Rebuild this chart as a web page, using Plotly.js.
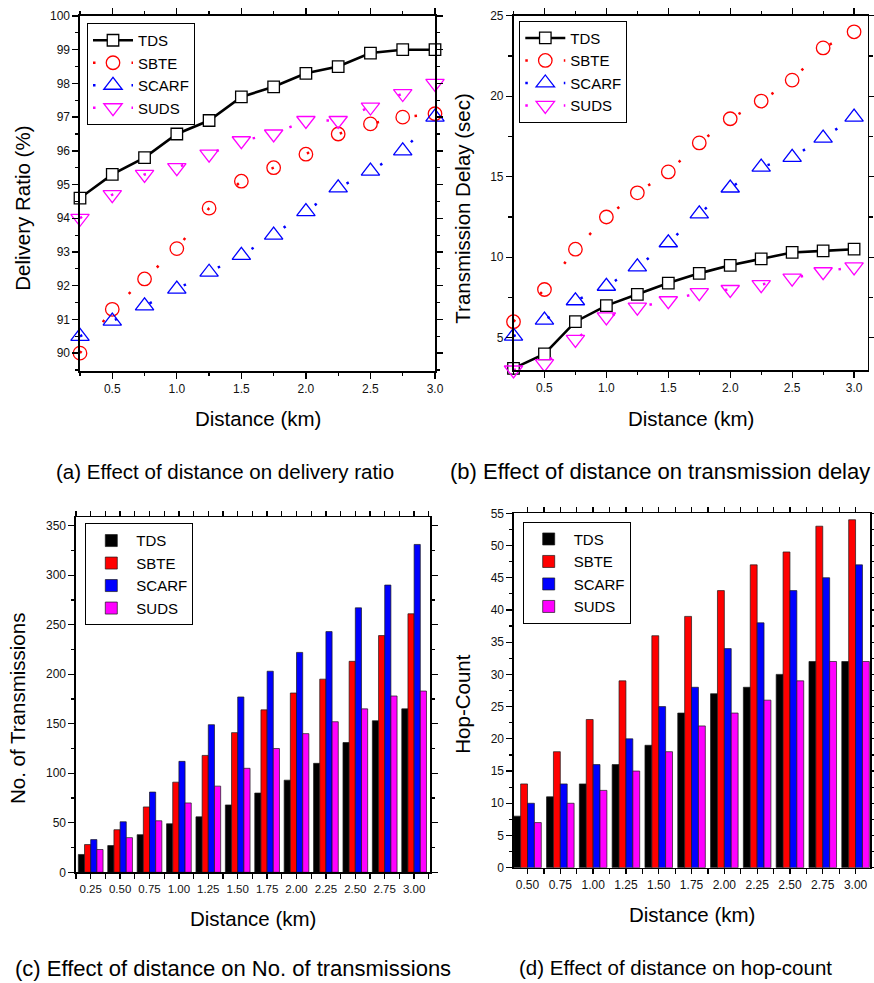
<!DOCTYPE html>
<html>
<head>
<meta charset="utf-8">
<script src="https://cdn.plot.ly/plotly-3.0.1.min.js"></script>
<style>
  html, body { margin: 0; padding: 0; background: #ffffff; }
  #chart { width: 874px; height: 983px; }
</style>
</head>
<body>
<div id="chart"></div>
<script>
// ---- Distances (km) ----
const distanceLine = [0.25, 0.5, 0.75, 1.0, 1.25, 1.5, 1.75, 2.0, 2.25, 2.5, 2.75, 3.0];
const distanceTx   = [0.25, 0.5, 0.75, 1.0, 1.25, 1.5, 1.75, 2.0, 2.25, 2.5, 2.75, 3.0];
const distanceHop  = [0.5, 0.75, 1.0, 1.25, 1.5, 1.75, 2.0, 2.25, 2.5, 2.75, 3.0];

const schemes = ['TDS', 'SBTE', 'SCARF', 'SUDS'];

// ---- (a) Delivery ratio (%) ----
const deliveryTDS   = [94.6, 95.3, 95.8, 96.5, 96.9, 97.6, 97.9, 98.3, 98.5, 98.9, 99.0, 99.0];
const deliverySBTE  = [90.0, 91.3, 92.2, 93.1, 94.3, 95.1, 95.5, 95.9, 96.5, 96.8, 97.0, 97.1];
const deliverySCARF = [90.5, 90.95, 91.4, 91.9, 92.4, 92.9, 93.5, 94.2, 94.9, 95.4, 96.0, 97.0];
const deliverySUDS  = [94.0, 94.7, 95.3, 95.5, 95.9, 96.3, 96.5, 96.9, 96.9, 97.3, 97.7, 98.0];

// ---- (b) Transmission delay (sec) ----
const delayTDS   = [3.1, 4.0, 6.0, 7.0, 7.7, 8.4, 9.0, 9.5, 9.9, 10.3, 10.4, 10.5];
const delaySBTE  = [6.0, 8.0, 10.5, 12.5, 14.0, 15.3, 17.1, 18.6, 19.7, 21.0, 23.0, 24.0];
const delaySCARF = [5.1, 6.1, 7.3, 8.2, 9.4, 10.9, 12.7, 14.3, 15.6, 16.2, 17.4, 18.7];
const delaySUDS  = [3.0, 3.4, 4.9, 6.3, 6.9, 7.3, 7.8, 8.0, 8.3, 8.7, 9.1, 9.4];

// ---- (c) Number of transmissions ----
const txTDS   = [18, 27, 38, 49, 56, 68, 80, 93, 110, 131, 153, 165];
const txSBTE  = [28, 43, 66, 91, 118, 141, 164, 181, 195, 213, 239, 261];
const txSCARF = [33, 51, 81, 112, 149, 177, 203, 222, 243, 267, 290, 331];
const txSUDS  = [23, 35, 52, 70, 87, 105, 125, 140, 152, 165, 178, 183];

// ---- (d) Hop count ----
const hopTDS   = [8, 11, 13, 16, 19, 24, 27, 28, 30, 32, 32];
const hopSBTE  = [13, 18, 23, 29, 36, 39, 43, 47, 49, 53, 54];
const hopSCARF = [10, 13, 16, 20, 25, 28, 34, 38, 43, 45, 47];
const hopSUDS  = [7, 10, 12, 15, 18, 22, 24, 26, 29, 32, 32];

// ---- Styling ----
const FONT = 'Arial, "Liberation Sans", Helvetica, sans-serif';
const W = 874, H = 983;
const colors = { TDS: '#000000', SBTE: '#ff0000', SCARF: '#0000ff', SUDS: '#ff00ff' };
const dotDash = '2.5px,36px';

function lineTraces(xs, series, xa, ya, leg) {
  const [tds, sbte, scarf, suds] = series;
  const common = { x: xs, xaxis: xa, yaxis: ya, legend: leg, mode: 'lines+markers', cliponaxis: false };
  return [
    Object.assign({}, common, {
      y: tds, name: 'TDS',
      line: { color: '#000000', width: 2.6 },
      marker: { symbol: 'square', size: 11.5, color: '#ffffff', line: { color: '#000000', width: 1.3 } }
    }),
    Object.assign({}, common, {
      y: sbte, name: 'SBTE',
      line: { color: colors.SBTE, width: 2.5, dash: dotDash },
      marker: { symbol: 'circle-open', size: 13.5, color: colors.SBTE, line: { width: 1.3 } }
    }),
    Object.assign({}, common, {
      y: scarf, name: 'SCARF',
      line: { color: colors.SCARF, width: 2.5, dash: dotDash },
      marker: { symbol: 'triangle-up-open', size: 16, color: colors.SCARF, line: { width: 1.3 } }
    }),
    Object.assign({}, common, {
      y: suds, name: 'SUDS',
      line: { color: colors.SUDS, width: 2.5, dash: dotDash },
      marker: { symbol: 'triangle-down-open', size: 16, color: colors.SUDS, line: { width: 1.3 } }
    })
  ];
}

function barTraces(xs, series, xa, ya, leg) {
  return schemes.map((name, i) => ({
    type: 'bar', x: xs, y: series[i], name: name, xaxis: xa, yaxis: ya, legend: leg,
    marker: { color: colors[name], line: { color: '#1a1a1a', width: 0.7 } }
  }));
}

const traces = [].concat(
  lineTraces(distanceLine, [deliveryTDS, deliverySBTE, deliverySCARF, deliverySUDS], 'x', 'y', 'legend'),
  lineTraces(distanceLine, [delayTDS, delaySBTE, delaySCARF, delaySUDS], 'x2', 'y2', 'legend2'),
  barTraces(distanceTx, [txTDS, txSBTE, txSCARF, txSUDS], 'x3', 'y3', 'legend3'),
  barTraces(distanceHop, [hopTDS, hopSBTE, hopSCARF, hopSUDS], 'x4', 'y4', 'legend4')
);

// pixel box -> paper domain helpers
const dx = (l, r) => [l / W, r / W];
const dy = (t, b) => [1 - b / H, 1 - t / H];

function axis(extra) {
  return Object.assign({
    showline: true, linecolor: '#000000', linewidth: 1.6, mirror: 'ticks',
    ticks: 'outside', ticklen: 6, tickwidth: 1.3, tickcolor: '#000000',
    showgrid: false, zeroline: false,
    tickfont: { family: FONT, size: 12, color: '#111111' }
  }, extra);
}

function minorTicks(step, len) {
  return { ticks: 'outside', dtick: step, ticklen: len || 3.5, tickwidth: 1.2, tickcolor: '#000000', showgrid: false };
}

function legendBox(left, top) {
  return {
    x: left / W, y: 1 - top / H, xanchor: 'left', yanchor: 'top',
    bgcolor: '#ffffff', bordercolor: '#000000', borderwidth: 1,
    font: { family: FONT, size: 15, color: '#000000' },
    itemwidth: 40, tracegroupgap: 0, traceorder: 'normal'
  };
}

function txt(text, xpx, ypx, angle, size) {
  return {
    text: text, xref: 'paper', yref: 'paper', x: xpx / W, y: 1 - ypx / H,
    xanchor: 'center', yanchor: 'middle', showarrow: false, textangle: angle || 0,
    font: { family: FONT, size: size || 20.5, color: '#000000' }
  };
}

const layout = {
  width: W, height: H,
  margin: { l: 0, r: 0, t: 0, b: 0, pad: 0 },
  paper_bgcolor: '#ffffff', plot_bgcolor: '#ffffff',
  font: { family: FONT, color: '#000000' },
  barmode: 'group', bargap: 0.16, bargroupgap: 0,
  showlegend: true,

  // (a) delivery ratio
  xaxis: axis({ domain: dx(80, 435), anchor: 'y', range: [0.25, 3.0], tick0: 0, dtick: 0.5, tickformat: '.1f',
                minor: minorTicks(0.25) }),
  yaxis: axis({ domain: dy(16, 371), anchor: 'x', range: [89.47, 100], tick0: 0, dtick: 1,
                minor: minorTicks(0.5) }),
  // (b) transmission delay
  xaxis2: axis({ domain: dx(513.5, 867.7), anchor: 'y2', range: [0.25, 3.11], tick0: 0, dtick: 0.5, tickformat: '.1f',
                 minor: minorTicks(0.25) }),
  yaxis2: axis({ domain: dy(15.7, 370), anchor: 'x2', range: [3.0, 25], tick0: 0, dtick: 5,
                 minor: minorTicks(2.5) }),
  // (c) number of transmissions
  xaxis3: axis({ domain: dx(76, 430), anchor: 'y3', range: [0.125, 3.135], tick0: 0, dtick: 0.25, tickformat: '.2f',
                 tickfont: { family: FONT, size: 11.5, color: '#111111' }, ticklen: 5,
                 minor: minorTicks(0.125, 5) }),
  yaxis3: axis({ domain: dy(517.3, 872.3), anchor: 'x3', range: [0, 358.4], tick0: 0, dtick: 50,
                 minor: minorTicks(25) }),
  // (d) hop count
  xaxis4: axis({ domain: dx(514, 870), anchor: 'y4', range: [0.397, 3.11], tick0: 0, dtick: 0.25, tickformat: '.2f',
                 ticklen: 5, minor: minorTicks(0.125, 5) }),
  yaxis4: axis({ domain: dy(513.3, 867.7), anchor: 'x4', range: [0, 55], tick0: 0, dtick: 5,
                 minor: minorTicks(2.5) }),

  legend:  legendBox(87, 23),
  legend2: legendBox(519.3, 20.7),
  legend3: legendBox(85.3, 523.3),
  legend4: legendBox(522.7, 521.7),

  annotations: [
    txt('Distance (km)', 257.5, 418),
    txt('Delivery Ratio (%)', 21.7, 208, -90),
    txt('Distance (km)', 690.5, 418),
    txt('Transmission Delay (sec)', 461.7, 208, -90),
    txt('Distance (km)', 253, 918),
    txt('No. of Transmissions', 17, 709, -90),
    txt('Distance (km)', 692, 914),
    txt('Hop-Count', 461.7, 704, -90),
    txt('(a) Effect of distance on delivery ratio', 224.7, 472),
    txt('(b) Effect of distance on transmission delay', 660, 472, 0, 22),
    txt('(c) Effect of distance on No. of transmissions', 233, 968, 0, 22),
    txt('(d) Effect of distance on hop-count', 675, 967)
  ]
};

Plotly.newPlot('chart', traces, layout, { staticPlot: true, displayModeBar: false });
</script>
</body>
</html>
